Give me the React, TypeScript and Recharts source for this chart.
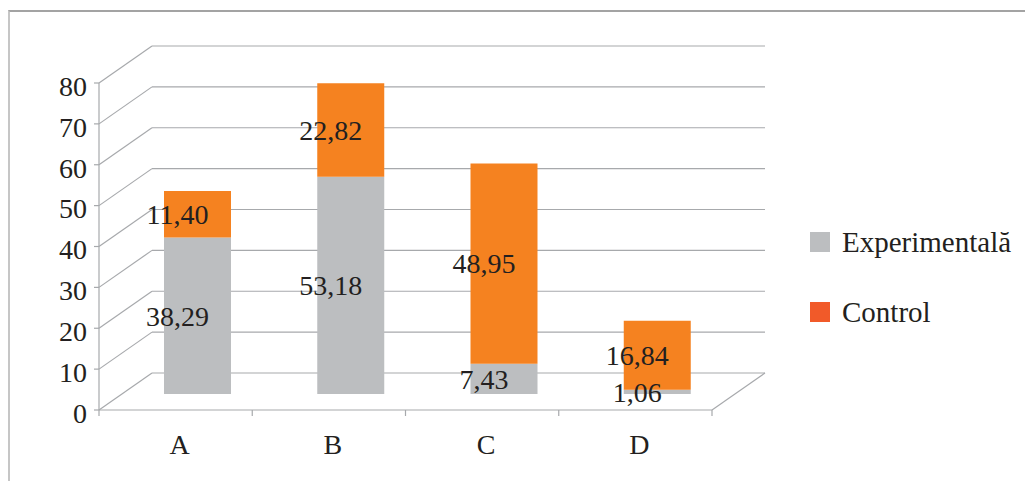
import { BarChart, Bar, XAxis, YAxis, CartesianGrid, LabelList } from 'recharts'

const categories = ['A', 'B', 'C', 'D']
const experimentala = [38.29, 53.18, 7.43, 1.06]
const control = [11.4, 22.82, 48.95, 16.84]
const yTicks = [0, 10, 20, 30, 40, 50, 60, 70, 80]
const seriesNames = ['Experimentală', 'Control']

const GRAY = '#BCBEC0'
const ORANGE = '#F58220'
const LEGEND_COLORS = [GRAY, '#F15A29']
const GRID = '#A7A9AC'
const INK = '#231F20'
const FONT = 'Liberation Serif, DejaVu Serif, serif'

// chart box (page coordinates, the chart sits at 0,0)
const W = 1025
const H = 481
const PLOT_LEFT = 121
const PLOT_TOP = 67
const PLOT_W = 613
const PLOT_BOTTOM = 394
const Y_AXIS_W = 60
const X_AXIS_H = 30

// fake depth: bars sit on the mid plane, axes on the front, grid on the back wall
const FRONT = { dx: -22, dy: 16 }
const BACK = { dx: 31, dy: -21 }

const data = categories.map((name, i) => ({
  name,
  exp: experimentala[i],
  ctrl: control[i],
}))

const fmt = (v: number) => v.toFixed(2).replace('.', ',')

const gridLine = (p: any) => {
  const { x1, x2, y1, index } = p
  const top = typeof p.y === 'number' ? p.y : PLOT_TOP
  const isFloor = Math.abs(y1 - PLOT_BOTTOM) < 1
  const s = { stroke: GRID, strokeWidth: 1.2 }
  return (
    <g key={`gl-${index}`}>
      <line x1={x1 + FRONT.dx} y1={y1 + FRONT.dy} x2={x1 + BACK.dx} y2={y1 + BACK.dy} {...s} />
      <line x1={x1 + BACK.dx} y1={y1 + BACK.dy} x2={x2 + BACK.dx} y2={y1 + BACK.dy} {...s} />
      {isFloor && (
        <>
          <line x1={x1 + FRONT.dx} y1={y1 + FRONT.dy} x2={x2 + FRONT.dx} y2={y1 + FRONT.dy} {...s} />
          <line x1={x2 + FRONT.dx} y1={y1 + FRONT.dy} x2={x2 + BACK.dx} y2={y1 + BACK.dy} {...s} />
          <line x1={x1 + FRONT.dx} y1={y1 + FRONT.dy} x2={x1 + FRONT.dx} y2={top + FRONT.dy} {...s} />
        </>
      )}
    </g>
  )
}

const YTick = (p: any) => {
  const { y, payload } = p
  const ax = PLOT_LEFT + FRONT.dx
  const ty = y + FRONT.dy
  return (
    <g>
      <line x1={ax - 5} y1={ty} x2={ax} y2={ty} stroke={GRID} strokeWidth={1.2} />
      <text x={ax - 12} y={ty + 3} dy="0.35em" textAnchor="end" fill={INK} style={{ fontSize: 28, fontFamily: FONT }}>
        {payload.value}
      </text>
    </g>
  )
}

const XTick = (p: any) => {
  const { x, payload, index } = p
  const band = PLOT_W / categories.length
  const fy = PLOT_BOTTOM + FRONT.dy
  const left = x - band / 2 + FRONT.dx
  const right = x + band / 2 + FRONT.dx
  return (
    <g>
      <line x1={left} y1={fy} x2={left} y2={fy + 6} stroke={GRID} strokeWidth={1.2} />
      {index === categories.length - 1 && (
        <line x1={right} y1={fy} x2={right} y2={fy + 6} stroke={GRID} strokeWidth={1.2} />
      )}
      <text x={x + FRONT.dx + 4} y={454} textAnchor="middle" fill={INK} style={{ fontSize: 28, fontFamily: FONT }}>
        {payload.value}
      </text>
    </g>
  )
}

const ValueLabel = (p: any) => {
  const { x, y, width, height, value } = p
  return (
    <text
      x={x + width / 2 - 20}
      y={y + height / 2}
      dy="0.35em"
      textAnchor="middle"
      fill={INK}
      style={{ fontSize: 28, fontFamily: FONT }}
    >
      {fmt(Number(value))}
    </text>
  )
}

export default function App() {
  return (
    <div style={{ position: 'absolute', left: 0, top: 0, width: W, height: H, background: '#fff', overflow: 'hidden', fontFamily: FONT }}>
      {/* frame: only top and left edges show */}
      <div
        style={{
          position: 'absolute',
          left: 8,
          top: 10,
          right: -10,
          bottom: -10,
          borderTop: '2px solid #A3A3A3',
          borderLeft: '2px solid #C6C6C6',
        }}
      />
      <BarChart
        width={W}
        height={H}
        data={data}
        margin={{
          top: PLOT_TOP,
          left: PLOT_LEFT - Y_AXIS_W,
          right: W - PLOT_LEFT - PLOT_W,
          bottom: H - PLOT_BOTTOM - X_AXIS_H,
        }}
        style={{ position: 'absolute', left: 0, top: 0 }}
      >
        <CartesianGrid vertical={false} horizontal={gridLine} />
        <XAxis
          dataKey="name"
          height={X_AXIS_H}
          axisLine={false}
          tickLine={false}
          interval={0}
          tick={<XTick />}
        />
        <YAxis
          width={Y_AXIS_W}
          domain={[0, 80]}
          ticks={yTicks}
          interval={0}
          axisLine={false}
          tickLine={false}
          tick={<YTick />}
        />
        <Bar dataKey="exp" name={seriesNames[0]} stackId="s" fill={GRAY} barSize={67} isAnimationActive={false}>
          <LabelList dataKey="exp" content={<ValueLabel />} />
        </Bar>
        <Bar dataKey="ctrl" name={seriesNames[1]} stackId="s" fill={ORANGE} barSize={67} isAnimationActive={false}>
          <LabelList dataKey="ctrl" content={<ValueLabel />} />
        </Bar>
      </BarChart>
      {seriesNames.map((n, i) => (
        <div
          key={n}
          style={{
            position: 'absolute',
            left: 810,
            top: 228 + i * 70,
            display: 'flex',
            alignItems: 'center',
            fontFamily: FONT,
            fontSize: 29,
            lineHeight: '28px',
            color: INK,
            whiteSpace: 'nowrap',
          }}
        >
          <span style={{ display: 'inline-block', width: 20, height: 20, background: LEGEND_COLORS[i], marginRight: 12 }} />
          {n}
        </div>
      ))}
    </div>
  )
}
